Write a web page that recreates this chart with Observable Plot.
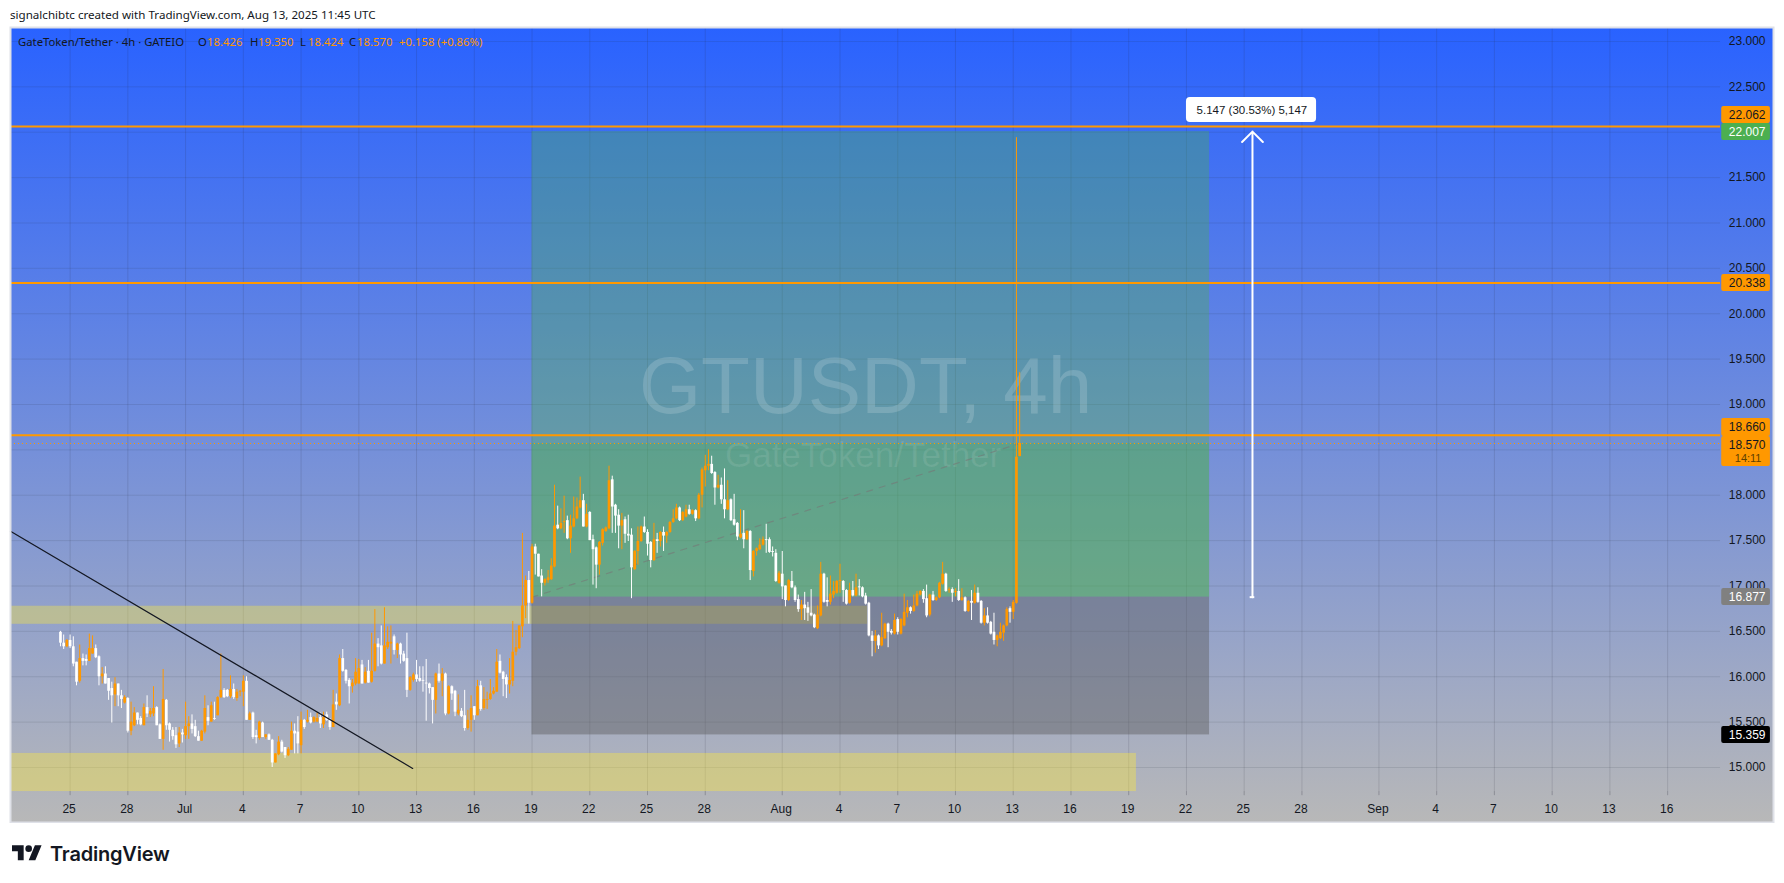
<!DOCTYPE html>
<html>
<head>
<meta charset="utf-8">
<script src="https://cdn.jsdelivr.net/npm/d3@7"></script>
<script src="https://cdn.jsdelivr.net/npm/@observablehq/plot@0.6"></script>
<style>
html,body{margin:0;padding:0;background:#fff;width:1784px;height:883px;overflow:hidden;position:relative;font-family:"Liberation Sans",Arial,sans-serif}
#chart{position:absolute;left:0;top:25px}
#chart svg{display:block}
.abs{position:absolute;white-space:nowrap}
#credit{left:10px;top:7px;font:11.6px/16px "Noto Sans",sans-serif;color:#131722}
#legend span{position:absolute;top:34px;font:11.3px/16px "Noto Sans",sans-serif;white-space:nowrap}
.dk{color:#131722}.or{color:#ff9800}
#brand{left:50px;top:841px;font:600 20px/26px Inter,sans-serif;color:#131722;letter-spacing:-.2px}
#mark{left:12px;top:841.7px}
</style>
</head>
<body>
<div id="credit" class="abs">signalchibtc created with TradingView.com, Aug 13, 2025 11:45 UTC</div>
<div id="chart"></div>
<div id="legend"></div>
<svg id="mark" class="abs" width="30" height="23.4" viewBox="0 0 36 28"><path fill="#131722" d="M14 22H7V11H0V4h14v18zM28 22h-8l7.5-18h8L28 22z"/><circle fill="#131722" cx="20" cy="8" r="4"/></svg>
<div id="brand" class="abs">TradingView</div>
<script>
const opens = [
16.49,16.37,16.33,16.40,16.33,16.16,15.95,16.20,16.19,16.17,
16.25,16.31,16.22,16.00,16.03,15.98,15.87,15.80,15.92,15.79,
15.71,15.76,15.40,15.46,15.60,15.54,15.46,15.66,15.58,15.59,
15.66,15.47,15.31,15.74,15.48,15.41,15.35,15.26,15.38,15.35,
15.45,15.48,15.45,15.34,15.29,15.39,15.55,15.50,15.54,15.57,
15.77,15.85,15.85,15.78,15.86,15.76,15.83,15.83,15.95,15.52,
15.60,15.35,15.32,15.49,15.33,15.36,15.30,15.05,15.14,15.28,
15.22,15.13,15.19,15.40,15.39,15.24,15.52,15.50,15.55,15.50,
15.50,15.55,15.47,15.58,15.52,15.44,15.72,15.68,16.20,16.07,
15.96,15.89,15.92,15.92,16.13,15.93,16.06,15.94,16.06,16.36,
16.34,16.14,16.32,16.36,16.44,16.29,16.36,16.25,16.20,15.85,
15.96,16.02,15.98,15.96,15.93,15.92,15.88,15.74,16.03,15.95,
16.03,15.59,15.89,15.84,15.59,15.62,15.57,15.43,15.52,15.67,
15.57,15.90,15.65,15.74,15.75,15.81,15.83,16.17,16.05,15.99,
15.91,15.95,16.27,16.31,16.55,16.78,17.06,16.81,17.43,17.35,
17.11,17.03,17.06,17.07,17.21,17.67,17.63,17.70,17.72,17.52,
17.65,17.74,17.86,17.94,17.65,17.81,17.51,17.42,17.23,17.47,
17.60,17.63,18.17,17.89,17.78,17.66,17.73,17.57,17.56,17.18,
17.38,17.49,17.65,17.59,17.48,17.28,17.51,17.49,17.59,17.55,
17.59,17.70,17.74,17.86,17.72,17.76,17.84,17.79,17.83,17.74,
18.00,18.27,18.32,18.34,18.25,18.08,18.11,17.95,17.84,17.95,
17.73,17.69,17.53,17.58,17.51,17.60,17.16,17.38,17.40,17.45,
17.51,17.51,17.38,17.36,17.03,17.13,17.00,16.84,17.05,16.98,
16.85,16.74,16.79,16.76,16.70,16.68,16.53,16.67,17.13,16.84,
16.82,16.90,16.92,17.05,17.05,16.95,16.81,16.95,16.89,16.99,
16.98,16.89,16.81,16.45,16.39,16.45,16.34,16.42,16.58,16.50,
16.47,16.63,16.47,16.56,16.70,16.76,16.72,16.78,16.90,16.94,
16.86,16.68,16.90,16.84,16.87,17.02,17.13,16.95,16.96,16.93,
16.94,16.84,16.87,16.72,16.83,16.81,16.92,16.83,16.59,16.67,
16.60,16.49,16.40,16.42,16.48,16.56,16.75,16.71,16.81,18.426];
const highs = [
16.50,16.46,16.41,16.46,16.44,16.16,16.35,16.25,16.24,16.47,
16.45,16.35,16.23,16.10,16.11,15.98,15.94,15.99,15.92,15.85,
15.79,15.77,15.72,15.66,15.60,15.56,15.70,15.79,15.65,15.89,
15.67,15.48,16.08,15.75,15.49,15.44,15.44,15.44,15.42,15.72,
15.56,15.58,15.52,15.40,15.41,15.79,15.68,15.72,15.72,15.78,
16.25,15.87,15.86,16.01,15.92,15.86,15.85,16.01,16.00,15.61,
15.61,15.41,15.51,15.50,15.36,15.37,15.31,15.15,15.34,15.30,
15.22,15.22,15.50,15.48,15.56,15.61,15.53,15.63,15.60,15.56,
15.60,15.60,15.61,15.61,15.54,15.85,15.81,16.24,16.30,16.08,
15.98,15.97,16.20,16.19,16.18,16.10,16.18,16.48,16.74,16.42,
16.56,16.76,16.55,16.56,16.46,16.37,16.37,16.28,16.48,16.00,
16.04,16.18,16.11,16.11,16.19,15.93,15.88,16.04,16.14,16.09,
16.04,15.90,15.90,15.85,15.80,15.65,15.85,15.63,15.79,15.67,
15.96,15.95,15.88,15.83,15.97,15.88,16.30,16.24,16.06,16.02,
16.20,16.61,16.51,16.56,17.58,17.11,17.16,17.46,17.46,17.35,
17.18,17.08,17.17,17.30,18.11,17.88,17.85,17.99,17.77,17.78,
17.98,17.97,18.20,18.01,17.90,17.82,17.56,17.43,17.49,17.63,
17.65,18.32,18.21,17.90,17.84,17.80,17.76,17.78,17.63,17.39,
17.65,17.66,17.76,17.62,17.49,17.69,17.58,17.60,17.65,17.60,
17.71,17.84,17.90,17.87,17.82,17.89,17.89,17.84,17.84,18.02,
18.30,18.44,18.50,18.43,18.26,18.22,18.19,18.29,18.16,17.96,
18.01,17.70,17.84,17.83,17.61,17.61,17.39,17.42,17.52,17.54,
17.68,17.53,17.43,17.40,17.16,17.38,17.00,17.07,17.16,17.00,
16.90,16.84,16.93,16.82,16.96,16.69,16.78,17.26,17.14,17.09,
17.11,17.05,17.06,17.24,17.06,16.96,17.03,17.05,17.13,17.07,
16.99,16.92,16.82,16.50,16.51,16.46,16.70,16.59,16.59,16.52,
16.69,16.65,16.64,16.91,16.84,16.77,16.90,16.94,16.95,16.96,
17.01,16.91,16.94,16.88,17.04,17.26,17.14,16.98,16.98,16.97,
17.07,16.97,16.88,16.84,16.95,17.01,16.98,16.84,16.75,16.76,
16.61,16.70,16.46,16.59,16.57,16.76,16.77,16.84,21.94,19.35];
const lows = [
16.33,16.30,16.32,16.31,16.11,15.90,15.93,16.12,16.12,16.17,
16.25,16.20,15.90,15.92,15.92,15.74,15.49,15.67,15.67,15.65,
15.70,15.38,15.35,15.45,15.47,15.46,15.46,15.55,15.55,15.56,
15.46,15.31,15.19,15.41,15.28,15.30,15.21,15.22,15.27,15.31,
15.31,15.37,15.33,15.29,15.29,15.37,15.46,15.50,15.52,15.57,
15.76,15.76,15.77,15.76,15.75,15.73,15.78,15.67,15.52,15.52,
15.31,15.26,15.30,15.33,15.31,15.30,15.00,15.05,15.13,15.16,
15.10,15.12,15.19,15.15,15.15,15.15,15.42,15.49,15.48,15.49,
15.50,15.43,15.43,15.51,15.41,15.44,15.63,15.67,16.05,15.92,
15.70,15.82,15.90,15.92,15.92,15.92,15.93,15.93,16.05,16.11,
16.13,16.14,16.30,16.14,16.24,16.20,16.14,16.16,15.77,15.84,
15.94,15.94,15.94,15.83,15.51,15.81,15.48,15.59,15.93,15.78,
15.57,15.58,15.74,15.56,15.57,15.55,15.40,15.41,15.39,15.52,
15.57,15.62,15.63,15.64,15.74,15.80,15.83,16.03,15.78,15.76,
15.81,15.89,16.23,16.30,16.43,16.64,16.58,16.80,17.12,17.10,
16.88,17.00,17.03,17.06,17.20,17.62,17.62,17.58,17.51,17.36,
17.64,17.73,17.85,17.65,17.64,17.50,17.01,16.97,17.12,17.44,
17.59,17.62,17.58,17.58,17.41,17.40,17.47,17.49,16.86,17.17,
17.23,17.48,17.58,17.33,17.20,17.27,17.36,17.43,17.38,17.47,
17.58,17.69,17.73,17.71,17.71,17.75,17.78,17.78,17.71,17.73,
17.86,18.09,18.27,18.23,17.89,18.07,17.90,17.74,17.83,17.71,
17.66,17.50,17.52,17.41,17.50,17.06,17.10,17.33,17.39,17.44,
17.36,17.36,17.32,17.04,17.02,16.85,16.77,16.83,16.97,16.82,
16.71,16.62,16.62,16.61,16.66,16.53,16.52,16.66,16.81,16.77,
16.79,16.86,16.91,16.92,16.82,16.79,16.80,16.88,16.88,16.89,
16.87,16.79,16.44,16.22,16.26,16.30,16.33,16.41,16.32,16.46,
16.46,16.46,16.46,16.55,16.65,16.69,16.71,16.77,16.89,16.81,
16.65,16.66,16.83,16.83,16.86,17.01,16.93,16.92,16.82,16.88,
16.83,16.83,16.71,16.71,16.62,16.80,16.81,16.58,16.56,16.58,
16.46,16.35,16.33,16.41,16.39,16.55,16.59,16.63,16.80,18.424];
const closes = [
16.37,16.33,16.40,16.33,16.14,15.94,16.20,16.17,16.17,16.31,
16.31,16.21,16.00,16.03,15.92,15.84,15.79,15.92,15.79,15.75,
15.77,15.40,15.50,15.60,15.52,15.47,15.66,15.59,15.62,15.65,
15.46,15.31,15.75,15.46,15.41,15.34,15.25,15.38,15.36,15.45,
15.48,15.42,15.34,15.29,15.40,15.65,15.51,15.68,15.53,15.77,
15.85,15.77,15.78,15.86,15.77,15.83,15.84,15.95,15.52,15.59,
15.33,15.33,15.50,15.33,15.36,15.30,15.05,15.15,15.28,15.17,
15.13,15.20,15.40,15.37,15.26,15.52,15.44,15.52,15.49,15.55,
15.54,15.48,15.55,15.52,15.44,15.69,15.69,16.20,16.06,15.95,
15.89,15.93,16.05,16.09,15.92,16.05,15.93,16.06,16.36,16.32,
16.14,16.34,16.38,16.38,16.29,16.36,16.24,16.17,15.85,15.99,
16.02,15.97,15.95,15.95,15.92,15.87,15.74,16.03,15.95,16.03,
15.59,15.89,15.81,15.61,15.63,15.56,15.43,15.52,15.65,15.57,
15.89,15.64,15.75,15.75,15.81,15.84,16.16,16.04,15.97,15.91,
15.96,16.27,16.32,16.56,16.78,17.06,16.81,17.43,17.35,17.10,
17.03,17.07,17.09,17.22,17.66,17.63,17.69,17.71,17.52,17.66,
17.74,17.87,17.94,17.65,17.79,17.50,17.40,17.23,17.48,17.62,
17.64,18.16,17.87,17.77,17.66,17.72,17.57,17.55,17.20,17.38,
17.49,17.65,17.59,17.46,17.28,17.51,17.49,17.59,17.55,17.59,
17.70,17.74,17.86,17.72,17.81,17.84,17.79,17.83,17.74,18.00,
18.28,18.32,18.34,18.24,18.08,18.11,17.95,17.84,17.94,17.72,
17.67,17.54,17.57,17.51,17.60,17.17,17.38,17.41,17.45,17.51,
17.50,17.37,17.37,17.05,17.14,16.99,16.84,17.06,16.98,16.84,
16.74,16.79,16.75,16.70,16.67,16.54,16.68,17.13,16.82,16.82,
16.91,16.94,17.05,17.06,16.95,16.80,16.95,16.89,16.98,16.98,
16.88,16.80,16.45,16.39,16.45,16.34,16.43,16.58,16.49,16.48,
16.62,16.49,16.63,16.71,16.76,16.72,16.78,16.91,16.94,16.85,
16.67,16.90,16.84,16.87,17.03,17.13,16.94,16.96,16.92,16.94,
16.84,16.87,16.72,16.83,16.81,16.92,16.82,16.59,16.67,16.59,
16.47,16.40,16.45,16.49,16.56,16.74,16.71,16.82,18.42,18.57];

const priceGrid = [23,22.5,22,21.5,21,20.5,20,19.5,19,18.5,18,17.5,17,16.5,16,15.5,15];
const priceLabels = [23,22.5,21.5,21,20.5,20,19.5,19,18,17.5,17,16.5,16,15.5,15];
const dateTickDays = [0,3,6,9,12,15,18,21,24,27,30,33,37,40,43,46,49,52,55,58,61,64,68,71,74,77,80,83];
const dateTickLabels = ["25","28","Jul","4","7","10","13","16","19","22","25","28","Aug","4","7","10","13","16","19","22","25","28","Sep","4","7","10","13","16"];
const levelPrices = [22.062,20.338,18.66];
const currentPrice = 18.57, entryPrice = 16.877, targetPrice = 22.007, stopPrice = 15.359;
const legendParts = [
 ["GateToken/Tether · 4h · GATEIO",18,"dk"],["O",198,"dk"],["18.426",207,"or"],["H",250,"dk"],["19.350",258,"or"],
 ["L",300,"dk"],["18.424",308,"or"],["C",349,"dk"],["18.570",357,"or"],["+0.158 (+0.86%)",399,"or"]];
const badges = [
 {text:"22.062",top:22.284,bottom:22.096,mid:22.19,bg:"#ff9800",fg:"#131722"},
 {text:"22.007",top:22.096,bottom:21.909,mid:22.003,bg:"#4caf50",fg:"#ffffff"},
 {text:"20.338",top:20.433,bottom:20.245,mid:20.338,bg:"#ff9800",fg:"#131722"},
 {text:"18.660",top:18.846,bottom:18.647,mid:18.745,bg:"#ff9800",fg:"#131722"},
 {text:"18.570",top:18.647,bottom:18.317,mid:18.555,bg:"#ff9800",fg:"#131722"},
 {text:"16.877",top:16.972,bottom:16.785,mid:16.877,bg:"#808080",fg:"#ffffff"},
 {text:"15.359",top:15.452,bottom:15.264,mid:15.359,bg:"#000000",fg:"#ffffff"}];

const DAY = 864e5, BASE = Date.UTC(2025,5,25);
const at = d => new Date(BASE + d*DAY);
const candles = opens.map((o,i)=>({t:new Date(Date.UTC(2025,5,24,12)+i*4*36e5),o,h:highs[i],l:lows[i],c:closes[i],up:closes[i]>=o}));
const dateTicks = dateTickDays.map((d,i)=>({t:at(d),label:dateTickLabels[i]}));
const gridEnd = at(85.75), left = at(-3.0966), right = at(88.5);
const FONT = '"Liberation Sans",Arial,sans-serif';

const defs = () => {
  const s = d3.create("svg:defs");
  const g = s.append("linearGradient").attr("id","bg").attr("x1",0).attr("x2",0).attr("y1",0).attr("y2",1);
  g.append("stop").attr("offset","0%").attr("stop-color","#2962ff");
  g.append("stop").attr("offset","100%").attr("stop-color","#b8b8b8");
  return s.node();
};

const chart = Plot.plot({
  width:1784,height:798,marginLeft:10,marginRight:11,marginTop:2,marginBottom:1,
  style:{background:"transparent",fontFamily:FONT},
  x:{type:"utc",domain:[left,right],axis:null},
  y:{domain:[14.394,23.154],axis:null},
  marks:[
    defs,
    Plot.rect([0],{x1:left,x2:right,y1:14.394,y2:23.154,fill:"url(#bg)"}),
    // grid
    Plot.ruleY(priceGrid,{x1:left,x2:gridEnd,stroke:"#2a2e39",strokeOpacity:.12}),
    Plot.ruleX(dateTicks,{x:"t",y1:23.154,y2:14.69,stroke:"#2a2e39",strokeOpacity:.14}),
    // bands
    Plot.rect([0],{x1:left,x2:at(41.43),y1:16.578,y2:16.777,fill:"#ffeb3b",fillOpacity:.36}),
    Plot.rect([0],{x1:left,x2:at(55.4),y1:14.735,y2:15.155,fill:"#ffeb3b",fillOpacity:.38}),
    // position tool
    Plot.rect([0],{x1:at(24),x2:at(59.2),y1:entryPrice,y2:targetPrice,fill:"#4caf50",fillOpacity:.36}),
    Plot.rect([0],{x1:at(24),x2:at(59.2),y1:entryPrice,y2:currentPrice,fill:"#4caf50",fillOpacity:.3}),
    Plot.rect([0],{x1:at(24),x2:at(59.2),y1:stopPrice,y2:entryPrice,fill:"#5a5a5a",fillOpacity:.44}),
    // watermark
    Plot.text(["GTUSDT, 4h"],{x:at(41.33),y:19.187,text:d=>d,fontSize:80,fill:"#ffffff",fillOpacity:.16,lineAnchor:"middle"}),
    Plot.text(["GateToken/Tether"],{x:at(41.2),y:18.43,text:d=>d,fontSize:35,fill:"#ffffff",fillOpacity:.09,lineAnchor:"middle"}),
    // connector
    Plot.line([{t:at(24),p:entryPrice},{t:candles[299].t,p:currentPrice}],{x:"t",y:"p",stroke:"#777777",strokeOpacity:.6,strokeWidth:1.2,strokeDasharray:"6 7"}),
    // candles
    Plot.ruleX(candles,{x:"t",y1:"l",y2:"h",stroke:d=>d.up?"#ff9800":"#ffffff",strokeWidth:1}),
    Plot.ruleX(candles,{x:"t",y1:"o",y2:"c",stroke:d=>d.up?"#ff9800":"#ffffff",strokeWidth:2.7}),
    // levels
    Plot.ruleY(levelPrices,{x1:left,x2:gridEnd,stroke:"#ff9800",strokeWidth:2}),
    Plot.ruleY([currentPrice],{x1:left,x2:gridEnd,stroke:"#ff9800",strokeWidth:1,strokeDasharray:"1 3"}),
    // trend line
    Plot.line([{t:left,p:17.604},{t:at(17.8),p:14.99}],{x:"t",y:"p",stroke:"#131722",strokeWidth:1.2}),
    // measure arrow
    Plot.arrow([0],{x1:at(61.43),x2:at(61.43),y1:entryPrice,y2:targetPrice,bend:0,stroke:"#ffffff",strokeWidth:2,headLength:11,headAngle:90}),
    Plot.ruleY([entryPrice],{x1:at(61.31),x2:at(61.55),stroke:"#ffffff",strokeWidth:2}),
    Plot.rect([0],{x1:at(58),x2:at(64.76),y1:22.107,y2:22.383,fill:"#ffffff",rx:4}),
    Plot.text(["5.147 (30.53%) 5,147"],{x:at(61.4),y:22.245,text:d=>d,fontSize:11.5,fill:"#131722",lineAnchor:"middle"}),
    // axes
    Plot.axisY(priceLabels,{anchor:"right",label:null,tickSize:0,tickPadding:-8,textAnchor:"end",tickFormat:d3.format(".3f"),fontSize:12,fill:"#131722"}),
    Plot.ruleX(dateTicks,{x:"t",y1:14.735,y2:14.69,stroke:"#2a2e39",strokeOpacity:.14}),
    Plot.text(dateTicks,{x:"t",text:"label",frameAnchor:"bottom",dx:-1,dy:-13,fontSize:12,fill:"#131722",lineAnchor:"middle"}),
    // badges
    Plot.rect(badges,{x1:at(85.81),x2:at(88.34),y1:"bottom",y2:"top",fill:"bg",rx:2}),
    Plot.text(badges,{y:"mid",text:"text",fill:"fg",frameAnchor:"right",dx:-8,textAnchor:"end",fontSize:12,lineAnchor:"middle"}),
    Plot.text(["14:11"],{y:18.405,text:d=>d,fill:"#5f4100",frameAnchor:"right",dx:-12,textAnchor:"end",fontSize:11,lineAnchor:"middle"}),
    Plot.frame({stroke:"#dfe1e8",strokeWidth:2})
  ]
});
document.getElementById("chart").append(chart);
const lg = document.getElementById("legend");
for (const [t,x,c] of legendParts){const s=document.createElement("span");s.textContent=t;s.className=c;s.style.left=x+"px";lg.append(s);}
</script>
</body>
</html>
